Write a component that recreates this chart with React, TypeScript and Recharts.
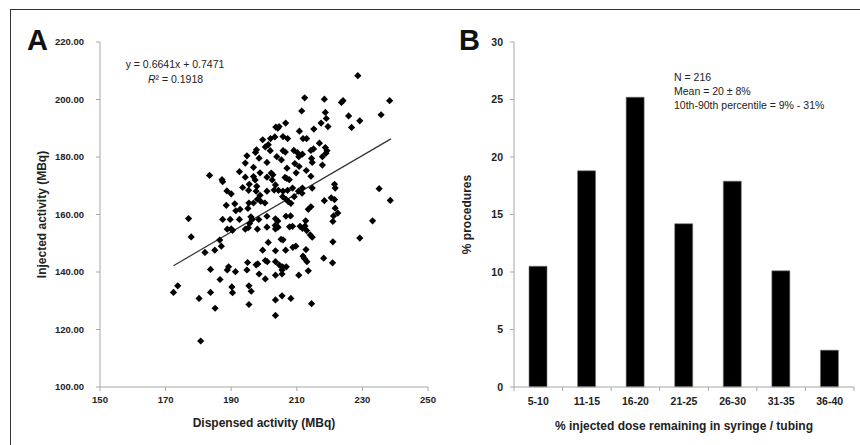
import React from 'react';
import { ScatterChart, Scatter, XAxis, YAxis, ReferenceLine, BarChart, Bar, Label } from 'recharts';

// Panel A: dispensed vs injected activity (MBq)
const dispensed = [
  228.6, 212.4, 218.4, 224.1, 223.6, 238.3, 211.5, 218.7, 225.8, 235.7, 229.2, 226.7, 219.0, 219.5, 215.2, 217.4,
  206.6, 203.6, 204.2, 204.6, 210.8, 211.9, 213.0, 205.8, 207.2, 203.3, 202.0, 199.6, 201.3, 197.7, 197.4, 194.8,
  198.5, 200.4, 201.9, 205.8, 206.5, 203.9, 205.3, 209.1, 210.2, 210.6, 211.7, 214.3, 215.1, 216.9, 218.7, 219.2,
  218.9, 217.8, 214.5, 214.7, 217.8, 194.3, 196.8, 200.9, 202.2, 198.8, 192.5, 194.3, 196.8, 197.3, 200.9, 202.7,
  209.4, 210.7, 209.8, 212.9, 207.0, 206.4, 207.7, 206.9, 214.3, 183.4, 187.2, 187.4, 188.7, 190.0, 193.5, 195.3,
  197.8, 197.6, 200.9, 203.5, 203.1, 204.4, 205.8, 207.2, 208.7, 210.5, 211.7, 211.6, 214.7, 221.5, 221.7, 235.1,
  205.7, 206.7, 207.4, 208.2, 198.8, 198.0, 199.0, 200.3, 196.8, 195.4, 188.5, 191.1, 192.7, 191.4, 195.1, 192.5,
  189.7, 187.4, 196.4, 196.0, 198.4, 195.6, 195.2, 194.3, 188.8, 190.0, 190.4, 198.0, 200.9, 203.5, 204.2, 200.9,
  203.4, 204.3, 203.5, 206.7, 208.1, 207.8, 208.7, 211.0, 211.7, 212.5, 213.0, 212.7, 213.5, 214.3, 221.2, 221.7,
  222.5, 221.0, 233.1, 218.4, 220.5, 221.5, 214.1, 214.7, 221.0, 229.2, 205.2, 205.8, 201.3, 186.5, 187.0, 185.0,
  182.0, 177.8, 177.0, 199.6, 203.5, 206.6, 208.8, 209.7, 212.8, 211.9, 212.3, 213.1, 195.0, 197.6, 198.1, 200.4,
  201.0, 203.5, 204.7, 205.7, 206.8, 205.5, 218.2, 220.9, 194.8, 198.5, 200.4, 203.5, 205.5, 210.6, 213.5, 188.8,
  189.2, 191.3, 183.7, 186.6, 190.2, 190.4, 195.4, 196.1, 183.7, 172.4, 173.7, 180.2, 185.1, 195.4, 203.5, 205.5,
  208.2, 214.5, 203.5, 180.7, 238.5, 209.2, 202.5, 195.5,
];
const injected = [
  208.3, 200.6, 200.1, 199.6, 199.0, 199.6, 196.0, 195.5, 194.3, 194.7, 192.6, 190.3, 193.4, 190.6, 189.7, 191.8,
  191.8, 190.4, 190.0, 190.6, 189.0, 186.4, 186.4, 187.1, 186.4, 187.0, 186.4, 186.0, 184.3, 182.5, 181.6, 180.4,
  179.6, 183.5, 182.2, 182.2, 181.7, 180.1, 179.0, 182.3, 181.5, 180.1, 181.0, 182.3, 182.8, 184.8, 183.3, 182.2,
  181.3, 180.1, 179.5, 178.1, 177.2, 177.9, 176.4, 178.1, 174.4, 174.5, 174.9, 173.0, 173.2, 172.0, 173.0, 173.8,
  177.7, 176.7, 174.5, 175.3, 176.1, 172.9, 172.1, 172.6, 173.3, 173.6, 172.1, 171.4, 168.2, 167.2, 169.4, 168.4,
  169.8, 168.1, 168.1, 170.3, 168.5, 168.4, 168.1, 168.4, 169.2, 168.1, 169.2, 167.4, 169.2, 170.5, 169.2, 169.0,
  166.2, 165.3, 164.5, 163.9, 166.7, 165.3, 164.6, 164.0, 164.0, 164.0, 163.2, 163.7, 161.8, 161.3, 162.1, 158.3,
  158.3, 158.3, 158.3, 159.2, 158.3, 156.9, 155.4, 154.9, 154.9, 155.0, 154.5, 154.9, 159.4, 158.5, 157.7, 155.6,
  156.2, 155.6, 155.0, 159.4, 159.5, 155.7, 155.9, 155.9, 155.2, 156.0, 154.4, 157.8, 161.8, 162.7, 159.5, 162.2,
  160.5, 157.6, 157.8, 164.8, 165.8, 165.2, 152.9, 152.1, 150.5, 151.8, 151.4, 151.2, 150.3, 151.1, 149.0, 147.6,
  146.8, 152.2, 158.6, 147.6, 147.4, 147.6, 148.6, 149.0, 147.8, 145.5, 144.7, 143.6, 143.3, 142.5, 142.8, 144.0,
  143.6, 143.6, 142.4, 141.8, 141.8, 140.7, 144.8, 143.2, 140.7, 139.3, 137.6, 138.9, 139.3, 138.9, 140.4, 140.7,
  141.8, 140.1, 140.9, 137.4, 134.8, 132.8, 135.2, 133.3, 132.9, 132.9, 135.2, 130.8, 127.4, 128.7, 130.3, 131.7,
  130.8, 129.0, 124.9, 116.0, 164.9, 166.2, 172.0, 170.5,
];
const trendX = [172.4, 238.7];
const trendY = [142.2, 186.3];
const xTicksA = [150, 170, 190, 210, 230, 250];
const yTicksA = [100, 120, 140, 160, 180, 200, 220];

// Panel B: % injected dose remaining
const doseBins = ['5-10', '11-15', '16-20', '21-25', '26-30', '31-35', '36-40'];
const procedurePct = [10.5, 18.8, 25.2, 14.2, 17.9, 10.1, 3.2];
const yTicksB = [0, 5, 10, 15, 20, 25, 30];

const FONT = '"Liberation Sans", Arial, sans-serif';
const AXIS = '#a6a6a6';
const TEXT = '#222';

const points = dispensed.map((x, i) => ({ x, y: injected[i] }));
const bars = doseBins.map((bin, i) => ({ bin, pct: procedurePct[i] }));

const Diamond = (props: any) => {
  const { cx, cy } = props;
  const r = 3.6;
  return <path d={`M${cx},${cy - r}L${cx + r},${cy}L${cx},${cy + r}L${cx - r},${cy}Z`} fill="#000" />;
};

const BAND = 340 / 7;
const BinTick = (props: any) => {
  const { x, y, payload, index } = props;
  const axisY = y - 11;
  return (
    <g>
      {index === 0 && <line x1={x - BAND / 2} x2={x - BAND / 2} y1={axisY} y2={axisY + 4} stroke={AXIS} />}
      <line x1={x + BAND / 2} x2={x + BAND / 2} y1={axisY} y2={axisY + 4} stroke={AXIS} />
      <text x={x} y={y} dy="0.71em" textAnchor="middle" fontSize={10.5} fontWeight="bold" fill={TEXT} fontFamily={FONT}>
        {payload.value}
      </text>
    </g>
  );
};

export default function App() {
  return (
    <div style={{ position: 'absolute', left: 0, top: 0, width: 860, height: 445, background: '#fff', fontFamily: FONT }}>
      <div style={{ position: 'absolute', left: 10, top: 9, width: 850, height: 436, borderTop: '1px solid #333', borderLeft: '1px solid #333' }} />
      <div style={{ position: 'absolute', left: 0, top: 0 }}>
        <ScatterChart width={445} height={445} margin={{ top: 42, right: 17, bottom: 8, left: 20 }}>
          <XAxis
            type="number"
            dataKey="x"
            domain={[150, 250]}
            ticks={xTicksA}
            height={50}
            stroke={AXIS}
            tickSize={4}
            tickMargin={5}
            tick={{ fontSize: 9.5, fontWeight: 'bold', fill: TEXT, fontFamily: FONT }}
          >
            <Label value="Dispensed activity (MBq)" position="insideBottom" offset={10} style={{ fontSize: 12, fontWeight: 'bold', fill: TEXT, fontFamily: FONT }} />
          </XAxis>
          <YAxis
            type="number"
            dataKey="y"
            domain={[100, 220]}
            ticks={yTicksA}
            width={80}
            stroke={AXIS}
            tickSize={4}
            tickMargin={12}
            tickFormatter={(v: number) => v.toFixed(2)}
            tick={{ fontSize: 9.5, fontWeight: 'bold', fill: TEXT, fontFamily: FONT }}
          >
            <Label value="Injected activity (MBq)" angle={-90} position="insideLeft" offset={22} style={{ textAnchor: 'middle', fontSize: 12, fontWeight: 'bold', fill: TEXT, fontFamily: FONT }} />
          </YAxis>
          <Scatter data={points} shape={Diamond} isAnimationActive={false} />
          <ReferenceLine
            segment={[{ x: trendX[0], y: trendY[0] }, { x: trendX[1], y: trendY[1] }]}
            stroke="#333"
            strokeWidth={1.2}
          />
        </ScatterChart>
      </div>
      <div style={{ position: 'absolute', left: 440, top: 0 }}>
        <BarChart width={420} height={445} data={bars} margin={{ top: 42, right: 6, bottom: 8, left: 14 }} barSize={18}>
          <XAxis
            dataKey="bin"
            height={50}
            stroke={AXIS}
            tickLine={false}
            tickSize={4}
            tickMargin={7}
            tick={<BinTick />}
          >
            <Label value="% injected dose remaining in syringe / tubing" position="insideBottom" offset={7} style={{ fontSize: 12, fontWeight: 'bold', fill: TEXT, fontFamily: FONT }} />
          </XAxis>
          <YAxis
            domain={[0, 30]}
            ticks={yTicksB}
            width={60}
            stroke={AXIS}
            tickSize={4}
            tickMargin={7}
            tick={{ fontSize: 10.5, fontWeight: 'bold', fill: TEXT, fontFamily: FONT }}
          >
            <Label value="% procedures" angle={-90} position="insideLeft" offset={13} style={{ textAnchor: 'middle', fontSize: 12, fontWeight: 'bold', fill: TEXT, fontFamily: FONT }} />
          </YAxis>
          <Bar dataKey="pct" fill="#000" stroke="#777" strokeWidth={0.6} isAnimationActive={false} />
        </BarChart>
      </div>
      <svg width={860} height={445} style={{ position: 'absolute', left: 0, top: 0, pointerEvents: 'none' }} fontFamily={FONT}>
        <text x={27} y={50} fontSize={29} fontWeight="bold" fill="#111">A</text>
        <text x={459} y={50} fontSize={29} fontWeight="bold" fill="#111">B</text>
        <text x={175} y={68} fontSize={10.5} textAnchor="middle" fill={TEXT}>y = 0.6641x + 0.7471</text>
        <text x={175.5} y={83} fontSize={10.5} textAnchor="middle" fill={TEXT}>
          <tspan fontStyle="italic">R</tspan>² = 0.1918
        </text>
        <text x={674} y={81} fontSize={10.5} fill={TEXT}>N = 216</text>
        <text x={674} y={95} fontSize={10.5} fill={TEXT}>Mean = 20 ± 8%</text>
        <text x={674} y={109} fontSize={10.5} fill={TEXT}>10th-90th percentile = 9% - 31%</text>
      </svg>
    </div>
  );
}
